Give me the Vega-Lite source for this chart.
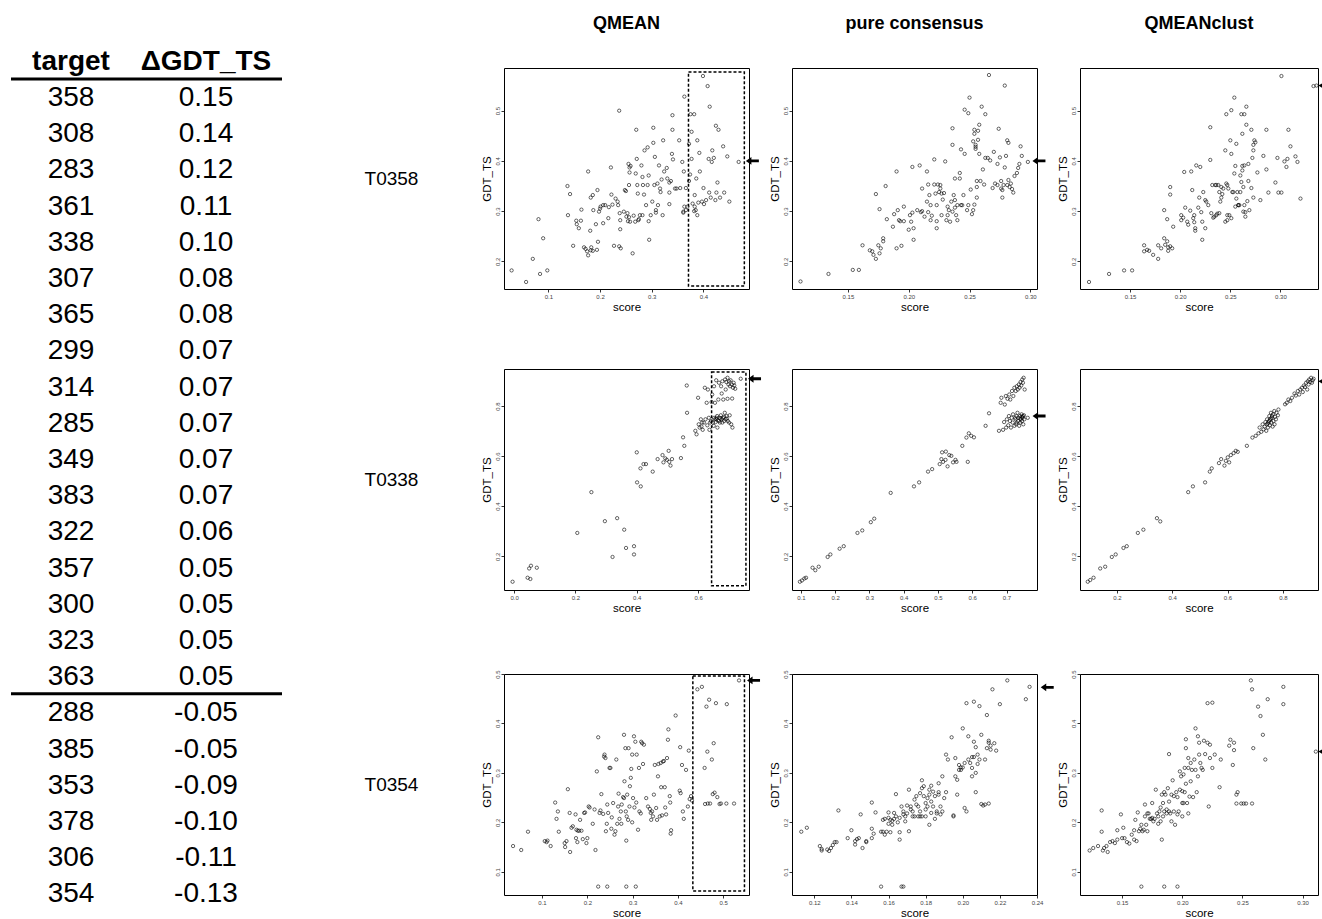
{
  "$schema": "https://vega.github.io/schema/vega-lite/v6.json",
  "padding": {"left": 9, "top": 14, "right": 0, "bottom": 0},
  "background": "white",
  "bounds": "flush",
  "spacing": 40,
  "config": {
    "font": "Liberation Sans",
    "view": {"stroke": "#000", "strokeWidth": 1},
    "axis": {
      "domain": false, "grid": false, "tickSize": 3, "tickColor": "#000", "tickWidth": 0.8,
      "labelFontSize": 6, "labelColor": "#444", "labelPadding": 1, "labelFlush": false, "labelOverlap": false,
      "titleFont": "Liberation Sans Narrow, Liberation Sans", "titleFontSize": 11.5, "titleFontWeight": "normal", "titleColor": "#000"
    },
    "axisY": {"labelAngle": -90, "labelAlign": "center", "labelBaseline": "bottom", "titlePadding": 2},
    "axisX": {"titlePadding": 2},
    "point": {"filled": false, "color": "#000", "size": 11, "strokeWidth": 0.6, "opacity": 1},
    "title": {"fontSize": 18, "fontWeight": "bold", "offset": 35, "color": "#000", "anchor": "middle"}
  },
  "datasets": {
    "table": [
      {"row": 1, "target": "358", "d": "0.15"}, {"row": 2, "target": "308", "d": "0.14"},
      {"row": 3, "target": "283", "d": "0.12"}, {"row": 4, "target": "361", "d": "0.11"},
      {"row": 5, "target": "338", "d": "0.10"}, {"row": 6, "target": "307", "d": "0.08"},
      {"row": 7, "target": "365", "d": "0.08"}, {"row": 8, "target": "299", "d": "0.07"},
      {"row": 9, "target": "314", "d": "0.07"}, {"row": 10, "target": "285", "d": "0.07"},
      {"row": 11, "target": "349", "d": "0.07"}, {"row": 12, "target": "383", "d": "0.07"},
      {"row": 13, "target": "322", "d": "0.06"}, {"row": 14, "target": "357", "d": "0.05"},
      {"row": 15, "target": "300", "d": "0.05"}, {"row": 16, "target": "323", "d": "0.05"},
      {"row": 17, "target": "363", "d": "0.05"}, {"row": 18, "target": "288", "d": "-0.05"},
      {"row": 19, "target": "385", "d": "-0.05"}, {"row": 20, "target": "353", "d": "-0.09"},
      {"row": 21, "target": "378", "d": "-0.10"}, {"row": 22, "target": "306", "d": "-0.11"},
      {"row": 23, "target": "354", "d": "-0.13"}
    ],
    "r1a": [
      {"s":0.029,"g":0.182},{"s":0.057,"g":0.159},{"s":0.070,"g":0.205},{"s":0.081,"g":0.284},{"s":0.084,"g":0.175},{"s":0.090,"g":0.246},{"s":0.098,"g":0.182},{"s":0.137,"g":0.350},{"s":0.142,"g":0.334},{"s":0.138,"g":0.292},{"s":0.148,"g":0.231},{"s":0.154,"g":0.281},{"s":0.155,"g":0.274},{"s":0.159,"g":0.266},{"s":0.163,"g":0.281},{"s":0.164,"g":0.303},{"s":0.169,"g":0.228},{"s":0.172,"g":0.225},{"s":0.175,"g":0.220},{"s":0.177,"g":0.212},{"s":0.182,"g":0.222},{"s":0.183,"g":0.228},{"s":0.186,"g":0.221},{"s":0.194,"g":0.223},{"s":0.177,"g":0.379},{"s":0.181,"g":0.261},{"s":0.182,"g":0.327},{"s":0.186,"g":0.332},{"s":0.187,"g":0.302},{"s":0.192,"g":0.274},{"s":0.195,"g":0.342},{"s":0.196,"g":0.239},{"s":0.198,"g":0.299},{"s":0.200,"g":0.305},{"s":0.201,"g":0.309},{"s":0.206,"g":0.312},{"s":0.210,"g":0.312},{"s":0.206,"g":0.276},{"s":0.216,"g":0.286},{"s":0.217,"g":0.308},{"s":0.222,"g":0.333},{"s":0.221,"g":0.387},{"s":0.224,"g":0.313},{"s":0.227,"g":0.231},{"s":0.230,"g":0.325},{"s":0.234,"g":0.319},{"s":0.235,"g":0.312},{"s":0.237,"g":0.230},{"s":0.239,"g":0.264},{"s":0.240,"g":0.226},{"s":0.238,"g":0.296},{"s":0.239,"g":0.282},{"s":0.237,"g":0.500},{"s":0.246,"g":0.299},{"s":0.248,"g":0.342},{"s":0.250,"g":0.340},{"s":0.251,"g":0.289},{"s":0.253,"g":0.296},{"s":0.254,"g":0.280},{"s":0.256,"g":0.288},{"s":0.258,"g":0.279},{"s":0.255,"g":0.394},{"s":0.257,"g":0.387},{"s":0.259,"g":0.390},{"s":0.256,"g":0.352},{"s":0.257,"g":0.377},{"s":0.263,"g":0.216},{"s":0.265,"g":0.291},{"s":0.268,"g":0.279},{"s":0.269,"g":0.375},{"s":0.270,"g":0.462},{"s":0.271,"g":0.404},{"s":0.272,"g":0.352},{"s":0.273,"g":0.335},{"s":0.274,"g":0.282},{"s":0.275,"g":0.284},{"s":0.277,"g":0.292},{"s":0.280,"g":0.391},{"s":0.282,"g":0.292},{"s":0.282,"g":0.368},{"s":0.283,"g":0.352},{"s":0.285,"g":0.333},{"s":0.286,"g":0.421},{"s":0.289,"g":0.312},{"s":0.292,"g":0.427},{"s":0.292,"g":0.352},{"s":0.294,"g":0.280},{"s":0.294,"g":0.371},{"s":0.295,"g":0.243},{"s":0.298,"g":0.292},{"s":0.301,"g":0.319},{"s":0.303,"g":0.466},{"s":0.303,"g":0.436},{"s":0.305,"g":0.352},{"s":0.306,"g":0.408},{"s":0.308,"g":0.297},{"s":0.308,"g":0.302},{"s":0.311,"g":0.355},{"s":0.312,"g":0.312},{"s":0.314,"g":0.391},{"s":0.316,"g":0.345},{"s":0.317,"g":0.338},{"s":0.319,"g":0.363},{"s":0.321,"g":0.292},{"s":0.322,"g":0.441},{"s":0.324,"g":0.379},{"s":0.329,"g":0.386},{"s":0.330,"g":0.365},{"s":0.334,"g":0.337},{"s":0.334,"g":0.357},{"s":0.337,"g":0.360},{"s":0.339,"g":0.414},{"s":0.340,"g":0.491},{"s":0.340,"g":0.462},{"s":0.334,"g":0.314},{"s":0.341,"g":0.403},{"s":0.345,"g":0.345},{"s":0.348,"g":0.345},{"s":0.353,"g":0.441},{"s":0.355,"g":0.346},{"s":0.359,"g":0.398},{"s":0.361,"g":0.297},{"s":0.361,"g":0.299},{"s":0.362,"g":0.379},{"s":0.363,"g":0.309},{"s":0.363,"g":0.528},{"s":0.366,"g":0.302},{"s":0.366,"g":0.346},{"s":0.369,"g":0.309},{"s":0.372,"g":0.434},{"s":0.372,"g":0.360},{"s":0.374,"g":0.373},{"s":0.375,"g":0.493},{"s":0.377,"g":0.458},{"s":0.377,"g":0.404},{"s":0.379,"g":0.315},{"s":0.382,"g":0.493},{"s":0.383,"g":0.309},{"s":0.383,"g":0.332},{"s":0.382,"g":0.300},{"s":0.385,"g":0.302},{"s":0.386,"g":0.365},{"s":0.388,"g":0.441},{"s":0.388,"g":0.292},{"s":0.390,"g":0.317},{"s":0.392,"g":0.416},{"s":0.393,"g":0.379},{"s":0.397,"g":0.319},{"s":0.399,"g":0.569},{"s":0.400,"g":0.346},{"s":0.401,"g":0.314},{"s":0.405,"g":0.322},{"s":0.408,"g":0.549},{"s":0.410,"g":0.404},{"s":0.411,"g":0.337},{"s":0.412,"g":0.508},{"s":0.414,"g":0.327},{"s":0.416,"g":0.398},{"s":0.417,"g":0.421},{"s":0.420,"g":0.406},{"s":0.423,"g":0.322},{"s":0.424,"g":0.470},{"s":0.425,"g":0.337},{"s":0.427,"g":0.357},{"s":0.429,"g":0.462},{"s":0.432,"g":0.327},{"s":0.438,"g":0.429},{"s":0.440,"g":0.337},{"s":0.446,"g":0.409},{"s":0.450,"g":0.319},{"s":0.468,"g":0.398}
    ],
    "r1b": [
      {"s":0.111,"g":0.160},{"s":0.134,"g":0.175},{"s":0.154,"g":0.183},{"s":0.159,"g":0.183},{"s":0.162,"g":0.232},{"s":0.168,"g":0.222},{"s":0.170,"g":0.220},{"s":0.171,"g":0.213},{"s":0.173,"g":0.205},{"s":0.175,"g":0.232},{"s":0.176,"g":0.216},{"s":0.177,"g":0.226},{"s":0.179,"g":0.240},{"s":0.179,"g":0.246},{"s":0.173,"g":0.334},{"s":0.176,"g":0.304},{"s":0.181,"g":0.350},{"s":0.182,"g":0.284},{"s":0.187,"g":0.269},{"s":0.188,"g":0.294},{"s":0.190,"g":0.226},{"s":0.191,"g":0.302},{"s":0.190,"g":0.379},{"s":0.192,"g":0.282},{"s":0.193,"g":0.280},{"s":0.194,"g":0.231},{"s":0.196,"g":0.280},{"s":0.196,"g":0.309},{"s":0.200,"g":0.263},{"s":0.201,"g":0.292},{"s":0.202,"g":0.279},{"s":0.203,"g":0.297},{"s":0.204,"g":0.266},{"s":0.204,"g":0.243},{"s":0.203,"g":0.388},{"s":0.207,"g":0.302},{"s":0.209,"g":0.391},{"s":0.210,"g":0.298},{"s":0.211,"g":0.300},{"s":0.211,"g":0.345},{"s":0.213,"g":0.289},{"s":0.215,"g":0.379},{"s":0.215,"g":0.319},{"s":0.216,"g":0.298},{"s":0.216,"g":0.353},{"s":0.217,"g":0.332},{"s":0.218,"g":0.312},{"s":0.218,"g":0.282},{"s":0.219,"g":0.291},{"s":0.221,"g":0.403},{"s":0.221,"g":0.353},{"s":0.222,"g":0.335},{"s":0.223,"g":0.266},{"s":0.223,"g":0.280},{"s":0.223,"g":0.312},{"s":0.224,"g":0.353},{"s":0.225,"g":0.338},{"s":0.226,"g":0.352},{"s":0.226,"g":0.345},{"s":0.227,"g":0.292},{"s":0.227,"g":0.335},{"s":0.228,"g":0.323},{"s":0.229,"g":0.336},{"s":0.230,"g":0.399},{"s":0.231,"g":0.282},{"s":0.232,"g":0.309},{"s":0.232,"g":0.292},{"s":0.233,"g":0.302},{"s":0.234,"g":0.279},{"s":0.235,"g":0.319},{"s":0.236,"g":0.299},{"s":0.236,"g":0.465},{"s":0.236,"g":0.432},{"s":0.237,"g":0.332},{"s":0.238,"g":0.365},{"s":0.238,"g":0.307},{"s":0.238,"g":0.322},{"s":0.239,"g":0.292},{"s":0.240,"g":0.312},{"s":0.240,"g":0.282},{"s":0.242,"g":0.365},{"s":0.242,"g":0.376},{"s":0.243,"g":0.423},{"s":0.243,"g":0.312},{"s":0.244,"g":0.312},{"s":0.245,"g":0.332},{"s":0.246,"g":0.502},{"s":0.246,"g":0.414},{"s":0.248,"g":0.302},{"s":0.249,"g":0.495},{"s":0.249,"g":0.312},{"s":0.250,"g":0.526},{"s":0.251,"g":0.343},{"s":0.252,"g":0.294},{"s":0.253,"g":0.302},{"s":0.253,"g":0.439},{"s":0.254,"g":0.454},{"s":0.254,"g":0.462},{"s":0.254,"g":0.313},{"s":0.255,"g":0.432},{"s":0.255,"g":0.428},{"s":0.255,"g":0.424},{"s":0.256,"g":0.327},{"s":0.256,"g":0.348},{"s":0.256,"g":0.360},{"s":0.257,"g":0.442},{"s":0.257,"g":0.460},{"s":0.258,"g":0.472},{"s":0.258,"g":0.414},{"s":0.259,"g":0.360},{"s":0.260,"g":0.508},{"s":0.261,"g":0.383},{"s":0.262,"g":0.353},{"s":0.263,"g":0.493},{"s":0.263,"g":0.406},{"s":0.265,"g":0.406},{"s":0.266,"g":0.571},{"s":0.267,"g":0.401},{"s":0.269,"g":0.346},{"s":0.270,"g":0.418},{"s":0.271,"g":0.355},{"s":0.273,"g":0.394},{"s":0.273,"g":0.352},{"s":0.274,"g":0.464},{"s":0.275,"g":0.407},{"s":0.276,"g":0.345},{"s":0.276,"g":0.360},{"s":0.277,"g":0.327},{"s":0.277,"g":0.342},{"s":0.278,"g":0.352},{"s":0.279,"g":0.550},{"s":0.279,"g":0.387},{"s":0.280,"g":0.410},{"s":0.281,"g":0.441},{"s":0.281,"g":0.352},{"s":0.282,"g":0.362},{"s":0.282,"g":0.436},{"s":0.283,"g":0.348},{"s":0.284,"g":0.355},{"s":0.285,"g":0.344},{"s":0.286,"g":0.337},{"s":0.287,"g":0.370},{"s":0.289,"g":0.376},{"s":0.290,"g":0.386},{"s":0.291,"g":0.394},{"s":0.292,"g":0.429},{"s":0.293,"g":0.410},{"s":0.298,"g":0.398}
    ],
    "r1c": [
      {"s":0.109,"g":0.159},{"s":0.129,"g":0.175},{"s":0.144,"g":0.182},{"s":0.152,"g":0.182},{"s":0.164,"g":0.232},{"s":0.164,"g":0.220},{"s":0.167,"g":0.223},{"s":0.169,"g":0.221},{"s":0.173,"g":0.213},{"s":0.178,"g":0.205},{"s":0.178,"g":0.232},{"s":0.181,"g":0.226},{"s":0.184,"g":0.246},{"s":0.185,"g":0.233},{"s":0.187,"g":0.240},{"s":0.188,"g":0.221},{"s":0.188,"g":0.228},{"s":0.190,"g":0.230},{"s":0.192,"g":0.226},{"s":0.193,"g":0.269},{"s":0.184,"g":0.302},{"s":0.187,"g":0.284},{"s":0.190,"g":0.348},{"s":0.190,"g":0.333},{"s":0.201,"g":0.292},{"s":0.201,"g":0.282},{"s":0.203,"g":0.287},{"s":0.204,"g":0.378},{"s":0.205,"g":0.307},{"s":0.207,"g":0.279},{"s":0.208,"g":0.273},{"s":0.210,"g":0.301},{"s":0.211,"g":0.379},{"s":0.212,"g":0.342},{"s":0.213,"g":0.286},{"s":0.214,"g":0.278},{"s":0.214,"g":0.292},{"s":0.215,"g":0.266},{"s":0.215,"g":0.261},{"s":0.216,"g":0.391},{"s":0.218,"g":0.307},{"s":0.219,"g":0.327},{"s":0.220,"g":0.388},{"s":0.221,"g":0.298},{"s":0.222,"g":0.279},{"s":0.222,"g":0.243},{"s":0.223,"g":0.338},{"s":0.225,"g":0.322},{"s":0.225,"g":0.266},{"s":0.226,"g":0.319},{"s":0.228,"g":0.312},{"s":0.230,"g":0.402},{"s":0.230,"g":0.467},{"s":0.231,"g":0.296},{"s":0.232,"g":0.352},{"s":0.233,"g":0.287},{"s":0.234,"g":0.289},{"s":0.235,"g":0.352},{"s":0.236,"g":0.292},{"s":0.236,"g":0.352},{"s":0.237,"g":0.295},{"s":0.238,"g":0.352},{"s":0.239,"g":0.296},{"s":0.239,"g":0.338},{"s":0.240,"g":0.319},{"s":0.241,"g":0.327},{"s":0.241,"g":0.348},{"s":0.242,"g":0.334},{"s":0.243,"g":0.345},{"s":0.245,"g":0.421},{"s":0.245,"g":0.279},{"s":0.246,"g":0.355},{"s":0.246,"g":0.493},{"s":0.247,"g":0.352},{"s":0.247,"g":0.282},{"s":0.247,"g":0.292},{"s":0.248,"g":0.345},{"s":0.249,"g":0.292},{"s":0.250,"g":0.441},{"s":0.251,"g":0.501},{"s":0.251,"g":0.414},{"s":0.251,"g":0.286},{"s":0.252,"g":0.338},{"s":0.253,"g":0.338},{"s":0.254,"g":0.526},{"s":0.254,"g":0.375},{"s":0.255,"g":0.390},{"s":0.255,"g":0.309},{"s":0.256,"g":0.325},{"s":0.256,"g":0.434},{"s":0.257,"g":0.338},{"s":0.258,"g":0.312},{"s":0.258,"g":0.312},{"s":0.259,"g":0.312},{"s":0.260,"g":0.338},{"s":0.260,"g":0.371},{"s":0.261,"g":0.358},{"s":0.261,"g":0.493},{"s":0.262,"g":0.390},{"s":0.262,"g":0.381},{"s":0.262,"g":0.454},{"s":0.263,"g":0.348},{"s":0.263,"g":0.299},{"s":0.264,"g":0.493},{"s":0.264,"g":0.391},{"s":0.264,"g":0.312},{"s":0.265,"g":0.298},{"s":0.265,"g":0.289},{"s":0.266,"g":0.508},{"s":0.266,"g":0.472},{"s":0.267,"g":0.320},{"s":0.268,"g":0.394},{"s":0.268,"g":0.360},{"s":0.269,"g":0.302},{"s":0.271,"g":0.462},{"s":0.271,"g":0.346},{"s":0.272,"g":0.406},{"s":0.273,"g":0.327},{"s":0.273,"g":0.421},{"s":0.273,"g":0.432},{"s":0.274,"g":0.441},{"s":0.275,"g":0.437},{"s":0.277,"g":0.377},{"s":0.280,"g":0.322},{"s":0.283,"g":0.410},{"s":0.286,"g":0.383},{"s":0.286,"g":0.462},{"s":0.288,"g":0.337},{"s":0.295,"g":0.357},{"s":0.297,"g":0.406},{"s":0.298,"g":0.337},{"s":0.301,"g":0.337},{"s":0.304,"g":0.399},{"s":0.306,"g":0.388},{"s":0.307,"g":0.404},{"s":0.308,"g":0.462},{"s":0.310,"g":0.429},{"s":0.315,"g":0.409},{"s":0.317,"g":0.398},{"s":0.320,"g":0.325},{"s":0.301,"g":0.569},{"s":0.333,"g":0.549},{"s":0.336,"g":0.550}
    ],
    "r2a": [
      {"s":-0.005,"g":0.098},{"s":0.044,"g":0.114},{"s":0.053,"g":0.109},{"s":0.049,"g":0.151},{"s":0.055,"g":0.162},{"s":0.074,"g":0.154},{"s":0.206,"g":0.293},{"s":0.252,"g":0.456},{"s":0.296,"g":0.340},{"s":0.336,"g":0.352},{"s":0.321,"g":0.197},{"s":0.359,"g":0.306},{"s":0.365,"g":0.233},{"s":0.391,"g":0.240},{"s":0.391,"g":0.207},{"s":0.400,"g":0.615},{"s":0.401,"g":0.495},{"s":0.413,"g":0.479},{"s":0.412,"g":0.551},{"s":0.422,"g":0.568},{"s":0.430,"g":0.568},{"s":0.452,"g":0.538},{"s":0.468,"g":0.588},{"s":0.484,"g":0.604},{"s":0.487,"g":0.575},{"s":0.493,"g":0.591},{"s":0.498,"g":0.585},{"s":0.504,"g":0.621},{"s":0.506,"g":0.577},{"s":0.510,"g":0.562},{"s":0.515,"g":0.588},{"s":0.544,"g":0.592},{"s":0.551,"g":0.675},{"s":0.555,"g":0.641},{"s":0.564,"g":0.773},{"s":0.563,"g":0.882},{"s":0.591,"g":0.701},{"s":0.595,"g":0.687},{"s":0.600,"g":0.833},{"s":0.602,"g":0.727},{"s":0.605,"g":0.714},{"s":0.609,"g":0.747},{"s":0.611,"g":0.718},{"s":0.613,"g":0.734},{"s":0.615,"g":0.705},{"s":0.619,"g":0.734},{"s":0.622,"g":0.873},{"s":0.624,"g":0.747},{"s":0.628,"g":0.813},{"s":0.630,"g":0.723},{"s":0.632,"g":0.866},{"s":0.635,"g":0.753},{"s":0.637,"g":0.705},{"s":0.639,"g":0.734},{"s":0.642,"g":0.740},{"s":0.644,"g":0.816},{"s":0.646,"g":0.846},{"s":0.648,"g":0.734},{"s":0.651,"g":0.721},{"s":0.652,"g":0.879},{"s":0.654,"g":0.747},{"s":0.655,"g":0.813},{"s":0.657,"g":0.736},{"s":0.659,"g":0.903},{"s":0.660,"g":0.753},{"s":0.663,"g":0.714},{"s":0.665,"g":0.743},{"s":0.666,"g":0.826},{"s":0.668,"g":0.893},{"s":0.670,"g":0.753},{"s":0.671,"g":0.734},{"s":0.674,"g":0.763},{"s":0.675,"g":0.879},{"s":0.677,"g":0.747},{"s":0.677,"g":0.850},{"s":0.679,"g":0.899},{"s":0.681,"g":0.753},{"s":0.682,"g":0.826},{"s":0.685,"g":0.740},{"s":0.687,"g":0.773},{"s":0.688,"g":0.906},{"s":0.690,"g":0.866},{"s":0.690,"g":0.747},{"s":0.692,"g":0.896},{"s":0.693,"g":0.760},{"s":0.696,"g":0.913},{"s":0.696,"g":0.829},{"s":0.697,"g":0.740},{"s":0.699,"g":0.886},{"s":0.701,"g":0.899},{"s":0.701,"g":0.734},{"s":0.703,"g":0.763},{"s":0.704,"g":0.879},{"s":0.706,"g":0.903},{"s":0.708,"g":0.727},{"s":0.710,"g":0.886},{"s":0.711,"g":0.830},{"s":0.712,"g":0.714},{"s":0.714,"g":0.873},{"s":0.716,"g":0.893},{"s":0.718,"g":0.882},{"s":0.721,"g":0.869},{"s":0.739,"g":0.909},{"s":0.652,"g":0.753},{"s":0.659,"g":0.747},{"s":0.668,"g":0.740},{"s":0.679,"g":0.734},{"s":0.684,"g":0.757},{"s":0.673,"g":0.750},{"s":0.662,"g":0.760},{"s":0.694,"g":0.750}
    ],
    "r2b": [
      {"s":0.097,"g":0.098},{"s":0.103,"g":0.103},{"s":0.110,"g":0.111},{"s":0.115,"g":0.114},{"s":0.134,"g":0.154},{"s":0.142,"g":0.144},{"s":0.152,"g":0.158},{"s":0.178,"g":0.197},{"s":0.186,"g":0.207},{"s":0.213,"g":0.230},{"s":0.225,"g":0.240},{"s":0.265,"g":0.293},{"s":0.279,"g":0.303},{"s":0.304,"g":0.336},{"s":0.314,"g":0.350},{"s":0.362,"g":0.453},{"s":0.430,"g":0.479},{"s":0.445,"g":0.495},{"s":0.471,"g":0.538},{"s":0.483,"g":0.548},{"s":0.505,"g":0.568},{"s":0.512,"g":0.615},{"s":0.523,"g":0.618},{"s":0.510,"g":0.588},{"s":0.515,"g":0.577},{"s":0.522,"g":0.585},{"s":0.528,"g":0.559},{"s":0.533,"g":0.604},{"s":0.539,"g":0.601},{"s":0.544,"g":0.575},{"s":0.551,"g":0.585},{"s":0.554,"g":0.577},{"s":0.571,"g":0.641},{"s":0.587,"g":0.577},{"s":0.583,"g":0.674},{"s":0.590,"g":0.691},{"s":0.597,"g":0.681},{"s":0.605,"g":0.675},{"s":0.639,"g":0.721},{"s":0.649,"g":0.771},{"s":0.678,"g":0.701},{"s":0.683,"g":0.813},{"s":0.685,"g":0.833},{"s":0.690,"g":0.705},{"s":0.693,"g":0.736},{"s":0.695,"g":0.806},{"s":0.698,"g":0.840},{"s":0.699,"g":0.714},{"s":0.701,"g":0.747},{"s":0.703,"g":0.829},{"s":0.705,"g":0.723},{"s":0.707,"g":0.760},{"s":0.708,"g":0.846},{"s":0.710,"g":0.740},{"s":0.711,"g":0.826},{"s":0.713,"g":0.714},{"s":0.715,"g":0.753},{"s":0.716,"g":0.860},{"s":0.718,"g":0.734},{"s":0.719,"g":0.767},{"s":0.720,"g":0.840},{"s":0.723,"g":0.721},{"s":0.723,"g":0.873},{"s":0.725,"g":0.753},{"s":0.726,"g":0.747},{"s":0.727,"g":0.860},{"s":0.728,"g":0.727},{"s":0.729,"g":0.760},{"s":0.730,"g":0.879},{"s":0.730,"g":0.734},{"s":0.732,"g":0.773},{"s":0.733,"g":0.866},{"s":0.734,"g":0.740},{"s":0.735,"g":0.753},{"s":0.736,"g":0.886},{"s":0.737,"g":0.721},{"s":0.738,"g":0.873},{"s":0.739,"g":0.760},{"s":0.740,"g":0.734},{"s":0.741,"g":0.896},{"s":0.742,"g":0.747},{"s":0.743,"g":0.882},{"s":0.744,"g":0.767},{"s":0.745,"g":0.740},{"s":0.746,"g":0.906},{"s":0.747,"g":0.753},{"s":0.748,"g":0.893},{"s":0.749,"g":0.727},{"s":0.750,"g":0.913},{"s":0.751,"g":0.763},{"s":0.752,"g":0.747},{"s":0.753,"g":0.866},{"s":0.762,"g":0.753},{"s":0.745,"g":0.757},{"s":0.740,"g":0.750},{"s":0.748,"g":0.760}
    ],
    "r2c": [
      {"s":0.095,"g":0.098},{"s":0.104,"g":0.105},{"s":0.116,"g":0.114},{"s":0.140,"g":0.151},{"s":0.158,"g":0.158},{"s":0.182,"g":0.197},{"s":0.196,"g":0.207},{"s":0.224,"g":0.233},{"s":0.236,"g":0.240},{"s":0.276,"g":0.293},{"s":0.296,"g":0.306},{"s":0.345,"g":0.352},{"s":0.357,"g":0.339},{"s":0.458,"g":0.456},{"s":0.475,"g":0.479},{"s":0.519,"g":0.495},{"s":0.536,"g":0.538},{"s":0.543,"g":0.551},{"s":0.569,"g":0.572},{"s":0.577,"g":0.588},{"s":0.589,"g":0.562},{"s":0.594,"g":0.581},{"s":0.601,"g":0.595},{"s":0.606,"g":0.575},{"s":0.612,"g":0.604},{"s":0.622,"g":0.612},{"s":0.630,"g":0.621},{"s":0.637,"g":0.617},{"s":0.670,"g":0.641},{"s":0.690,"g":0.674},{"s":0.702,"g":0.681},{"s":0.712,"g":0.691},{"s":0.716,"g":0.714},{"s":0.722,"g":0.697},{"s":0.727,"g":0.727},{"s":0.730,"g":0.707},{"s":0.734,"g":0.718},{"s":0.737,"g":0.736},{"s":0.740,"g":0.701},{"s":0.742,"g":0.727},{"s":0.743,"g":0.747},{"s":0.746,"g":0.714},{"s":0.748,"g":0.734},{"s":0.751,"g":0.760},{"s":0.753,"g":0.723},{"s":0.754,"g":0.745},{"s":0.757,"g":0.773},{"s":0.758,"g":0.734},{"s":0.760,"g":0.753},{"s":0.763,"g":0.718},{"s":0.764,"g":0.767},{"s":0.766,"g":0.740},{"s":0.769,"g":0.780},{"s":0.770,"g":0.727},{"s":0.772,"g":0.757},{"s":0.775,"g":0.747},{"s":0.777,"g":0.773},{"s":0.782,"g":0.763},{"s":0.784,"g":0.786},{"s":0.808,"g":0.807},{"s":0.814,"g":0.813},{"s":0.820,"g":0.826},{"s":0.827,"g":0.820},{"s":0.833,"g":0.833},{"s":0.842,"g":0.850},{"s":0.847,"g":0.842},{"s":0.854,"g":0.860},{"s":0.859,"g":0.846},{"s":0.863,"g":0.866},{"s":0.869,"g":0.873},{"s":0.872,"g":0.856},{"s":0.876,"g":0.882},{"s":0.880,"g":0.876},{"s":0.884,"g":0.893},{"s":0.888,"g":0.866},{"s":0.890,"g":0.899},{"s":0.893,"g":0.886},{"s":0.895,"g":0.906},{"s":0.899,"g":0.896},{"s":0.902,"g":0.913},{"s":0.905,"g":0.893},{"s":0.908,"g":0.903},{"s":0.911,"g":0.909},{"s":0.750,"g":0.740},{"s":0.745,"g":0.730},{"s":0.756,"g":0.750},{"s":0.761,"g":0.760}
    ],
    "r3a": [
      {"s":0.036,"g":0.152},{"s":0.054,"g":0.144},{"s":0.069,"g":0.181},{"s":0.106,"g":0.162},{"s":0.110,"g":0.160},{"s":0.112,"g":0.163},{"s":0.119,"g":0.152},{"s":0.129,"g":0.240},{"s":0.132,"g":0.207},{"s":0.135,"g":0.222},{"s":0.137,"g":0.181},{"s":0.150,"g":0.158},{"s":0.151,"g":0.150},{"s":0.154,"g":0.162},{"s":0.157,"g":0.267},{"s":0.161,"g":0.219},{"s":0.162,"g":0.140},{"s":0.165,"g":0.189},{"s":0.168,"g":0.192},{"s":0.174,"g":0.216},{"s":0.175,"g":0.168},{"s":0.176,"g":0.185},{"s":0.178,"g":0.160},{"s":0.179,"g":0.183},{"s":0.182,"g":0.183},{"s":0.184,"g":0.205},{"s":0.187,"g":0.183},{"s":0.190,"g":0.166},{"s":0.193,"g":0.219},{"s":0.195,"g":0.220},{"s":0.198,"g":0.158},{"s":0.200,"g":0.168},{"s":0.203,"g":0.232},{"s":0.205,"g":0.230},{"s":0.212,"g":0.197},{"s":0.216,"g":0.226},{"s":0.218,"g":0.144},{"s":0.221,"g":0.303},{"s":0.224,"g":0.372},{"s":0.227,"g":0.219},{"s":0.229,"g":0.224},{"s":0.231,"g":0.257},{"s":0.235,"g":0.217},{"s":0.237,"g":0.333},{"s":0.238,"g":0.337},{"s":0.240,"g":0.330},{"s":0.241,"g":0.182},{"s":0.243,"g":0.197},{"s":0.244,"g":0.236},{"s":0.246,"g":0.219},{"s":0.249,"g":0.310},{"s":0.251,"g":0.310},{"s":0.253,"g":0.187},{"s":0.254,"g":0.210},{"s":0.257,"g":0.239},{"s":0.260,"g":0.175},{"s":0.262,"g":0.182},{"s":0.264,"g":0.327},{"s":0.266,"g":0.197},{"s":0.268,"g":0.232},{"s":0.269,"g":0.258},{"s":0.271,"g":0.207},{"s":0.274,"g":0.222},{"s":0.275,"g":0.197},{"s":0.276,"g":0.236},{"s":0.279,"g":0.251},{"s":0.281,"g":0.377},{"s":0.281,"g":0.249},{"s":0.282,"g":0.283},{"s":0.284,"g":0.350},{"s":0.285,"g":0.222},{"s":0.286,"g":0.163},{"s":0.287,"g":0.212},{"s":0.288,"g":0.256},{"s":0.290,"g":0.205},{"s":0.291,"g":0.350},{"s":0.293,"g":0.232},{"s":0.294,"g":0.273},{"s":0.296,"g":0.290},{"s":0.297,"g":0.308},{"s":0.299,"g":0.200},{"s":0.299,"g":0.337},{"s":0.301,"g":0.249},{"s":0.303,"g":0.374},{"s":0.304,"g":0.230},{"s":0.306,"g":0.363},{"s":0.308,"g":0.240},{"s":0.309,"g":0.337},{"s":0.312,"g":0.185},{"s":0.314,"g":0.310},{"s":0.315,"g":0.222},{"s":0.318,"g":0.218},{"s":0.319,"g":0.363},{"s":0.321,"g":0.360},{"s":0.323,"g":0.318},{"s":0.325,"g":0.357},{"s":0.330,"g":0.249},{"s":0.334,"g":0.232},{"s":0.338,"g":0.227},{"s":0.340,"g":0.219},{"s":0.341,"g":0.205},{"s":0.343,"g":0.222},{"s":0.345,"g":0.212},{"s":0.347,"g":0.256},{"s":0.349,"g":0.316},{"s":0.352,"g":0.229},{"s":0.354,"g":0.205},{"s":0.356,"g":0.293},{"s":0.357,"g":0.318},{"s":0.360,"g":0.212},{"s":0.362,"g":0.320},{"s":0.363,"g":0.271},{"s":0.365,"g":0.214},{"s":0.367,"g":0.323},{"s":0.369,"g":0.324},{"s":0.371,"g":0.271},{"s":0.372,"g":0.230},{"s":0.374,"g":0.216},{"s":0.376,"g":0.330},{"s":0.378,"g":0.367},{"s":0.379,"g":0.388},{"s":0.382,"g":0.253},{"s":0.383,"g":0.240},{"s":0.384,"g":0.177},{"s":0.385,"g":0.184},{"s":0.395,"g":0.416},{"s":0.404,"g":0.264},{"s":0.405,"g":0.352},{"s":0.406,"g":0.259},{"s":0.409,"g":0.316},{"s":0.411,"g":0.222},{"s":0.413,"g":0.207},{"s":0.418,"g":0.306},{"s":0.422,"g":0.232},{"s":0.424,"g":0.345},{"s":0.426,"g":0.247},{"s":0.429,"g":0.253},{"s":0.431,"g":0.244},{"s":0.443,"g":0.469},{"s":0.453,"g":0.474},{"s":0.459,"g":0.310},{"s":0.460,"g":0.237},{"s":0.463,"g":0.434},{"s":0.465,"g":0.343},{"s":0.466,"g":0.238},{"s":0.469,"g":0.448},{"s":0.471,"g":0.238},{"s":0.475,"g":0.327},{"s":0.477,"g":0.257},{"s":0.479,"g":0.360},{"s":0.481,"g":0.260},{"s":0.484,"g":0.441},{"s":0.487,"g":0.251},{"s":0.492,"g":0.237},{"s":0.495,"g":0.238},{"s":0.507,"g":0.238},{"s":0.508,"g":0.439},{"s":0.524,"g":0.238},{"s":0.535,"g":0.487},{"s":0.224,"g":0.070},{"s":0.244,"g":0.070},{"s":0.286,"g":0.070},{"s":0.307,"g":0.070}
    ],
    "r3b": [
      {"s":0.113,"g":0.181},{"s":0.116,"g":0.189},{"s":0.123,"g":0.152},{"s":0.124,"g":0.146},{"s":0.124,"g":0.143},{"s":0.127,"g":0.145},{"s":0.128,"g":0.142},{"s":0.129,"g":0.148},{"s":0.130,"g":0.154},{"s":0.131,"g":0.160},{"s":0.132,"g":0.160},{"s":0.133,"g":0.224},{"s":0.138,"g":0.168},{"s":0.140,"g":0.184},{"s":0.142,"g":0.162},{"s":0.142,"g":0.155},{"s":0.143,"g":0.166},{"s":0.144,"g":0.168},{"s":0.145,"g":0.216},{"s":0.146,"g":0.148},{"s":0.148,"g":0.160},{"s":0.148,"g":0.162},{"s":0.151,"g":0.168},{"s":0.151,"g":0.187},{"s":0.151,"g":0.240},{"s":0.152,"g":0.177},{"s":0.153,"g":0.220},{"s":0.156,"g":0.181},{"s":0.157,"g":0.181},{"s":0.157,"g":0.205},{"s":0.158,"g":0.207},{"s":0.158,"g":0.175},{"s":0.159,"g":0.181},{"s":0.160,"g":0.220},{"s":0.160,"g":0.209},{"s":0.160,"g":0.197},{"s":0.161,"g":0.205},{"s":0.161,"g":0.180},{"s":0.162,"g":0.203},{"s":0.162,"g":0.195},{"s":0.163,"g":0.219},{"s":0.163,"g":0.207},{"s":0.164,"g":0.257},{"s":0.164,"g":0.212},{"s":0.165,"g":0.200},{"s":0.166,"g":0.165},{"s":0.166,"g":0.180},{"s":0.166,"g":0.209},{"s":0.167,"g":0.232},{"s":0.168,"g":0.216},{"s":0.168,"g":0.222},{"s":0.169,"g":0.212},{"s":0.169,"g":0.202},{"s":0.170,"g":0.234},{"s":0.170,"g":0.218},{"s":0.171,"g":0.182},{"s":0.171,"g":0.266},{"s":0.172,"g":0.226},{"s":0.172,"g":0.232},{"s":0.173,"g":0.212},{"s":0.173,"g":0.222},{"s":0.174,"g":0.246},{"s":0.174,"g":0.212},{"s":0.175,"g":0.236},{"s":0.175,"g":0.253},{"s":0.176,"g":0.232},{"s":0.176,"g":0.212},{"s":0.177,"g":0.259},{"s":0.177,"g":0.222},{"s":0.177,"g":0.212},{"s":0.178,"g":0.285},{"s":0.178,"g":0.269},{"s":0.178,"g":0.212},{"s":0.179,"g":0.253},{"s":0.179,"g":0.273},{"s":0.180,"g":0.239},{"s":0.180,"g":0.226},{"s":0.180,"g":0.212},{"s":0.181,"g":0.249},{"s":0.181,"g":0.232},{"s":0.182,"g":0.195},{"s":0.182,"g":0.266},{"s":0.182,"g":0.256},{"s":0.183,"g":0.242},{"s":0.183,"g":0.219},{"s":0.183,"g":0.274},{"s":0.184,"g":0.232},{"s":0.184,"g":0.262},{"s":0.185,"g":0.207},{"s":0.185,"g":0.253},{"s":0.186,"g":0.222},{"s":0.186,"g":0.218},{"s":0.187,"g":0.279},{"s":0.187,"g":0.261},{"s":0.187,"g":0.256},{"s":0.188,"g":0.216},{"s":0.188,"g":0.232},{"s":0.189,"g":0.293},{"s":0.189,"g":0.222},{"s":0.190,"g":0.249},{"s":0.191,"g":0.261},{"s":0.191,"g":0.337},{"s":0.192,"g":0.327},{"s":0.194,"g":0.372},{"s":0.195,"g":0.214},{"s":0.195,"g":0.212},{"s":0.196,"g":0.330},{"s":0.196,"g":0.293},{"s":0.197,"g":0.256},{"s":0.197,"g":0.286},{"s":0.198,"g":0.316},{"s":0.198,"g":0.306},{"s":0.199,"g":0.311},{"s":0.199,"g":0.306},{"s":0.200,"g":0.390},{"s":0.200,"g":0.311},{"s":0.201,"g":0.320},{"s":0.201,"g":0.229},{"s":0.202,"g":0.222},{"s":0.202,"g":0.441},{"s":0.203,"g":0.374},{"s":0.203,"g":0.327},{"s":0.204,"g":0.320},{"s":0.205,"g":0.332},{"s":0.205,"g":0.310},{"s":0.205,"g":0.293},{"s":0.206,"g":0.363},{"s":0.206,"g":0.444},{"s":0.206,"g":0.332},{"s":0.207,"g":0.352},{"s":0.207,"g":0.261},{"s":0.207,"g":0.300},{"s":0.208,"g":0.318},{"s":0.208,"g":0.337},{"s":0.209,"g":0.435},{"s":0.209,"g":0.327},{"s":0.210,"g":0.377},{"s":0.210,"g":0.237},{"s":0.211,"g":0.234},{"s":0.212,"g":0.236},{"s":0.212,"g":0.327},{"s":0.213,"g":0.417},{"s":0.213,"g":0.350},{"s":0.214,"g":0.361},{"s":0.214,"g":0.238},{"s":0.214,"g":0.365},{"s":0.215,"g":0.355},{"s":0.215,"g":0.347},{"s":0.216,"g":0.469},{"s":0.217,"g":0.360},{"s":0.218,"g":0.345},{"s":0.220,"g":0.439},{"s":0.224,"g":0.487},{"s":0.234,"g":0.449},{"s":0.236,"g":0.474},{"s":0.156,"g":0.070},{"s":0.167,"g":0.070},{"s":0.168,"g":0.070}
    ],
    "r3c": [
      {"s":0.123,"g":0.143},{"s":0.126,"g":0.148},{"s":0.130,"g":0.152},{"s":0.133,"g":0.224},{"s":0.133,"g":0.181},{"s":0.134,"g":0.143},{"s":0.135,"g":0.148},{"s":0.137,"g":0.152},{"s":0.138,"g":0.140},{"s":0.140,"g":0.160},{"s":0.142,"g":0.162},{"s":0.144,"g":0.158},{"s":0.146,"g":0.165},{"s":0.146,"g":0.184},{"s":0.149,"g":0.216},{"s":0.150,"g":0.168},{"s":0.151,"g":0.189},{"s":0.152,"g":0.168},{"s":0.154,"g":0.160},{"s":0.156,"g":0.157},{"s":0.158,"g":0.175},{"s":0.160,"g":0.184},{"s":0.160,"g":0.165},{"s":0.161,"g":0.205},{"s":0.162,"g":0.162},{"s":0.163,"g":0.220},{"s":0.164,"g":0.182},{"s":0.165,"g":0.187},{"s":0.166,"g":0.195},{"s":0.167,"g":0.182},{"s":0.168,"g":0.185},{"s":0.169,"g":0.212},{"s":0.169,"g":0.236},{"s":0.170,"g":0.195},{"s":0.171,"g":0.218},{"s":0.171,"g":0.182},{"s":0.172,"g":0.218},{"s":0.173,"g":0.207},{"s":0.174,"g":0.207},{"s":0.175,"g":0.239},{"s":0.175,"g":0.209},{"s":0.176,"g":0.202},{"s":0.177,"g":0.207},{"s":0.178,"g":0.266},{"s":0.179,"g":0.218},{"s":0.180,"g":0.212},{"s":0.180,"g":0.197},{"s":0.181,"g":0.222},{"s":0.182,"g":0.230},{"s":0.182,"g":0.202},{"s":0.183,"g":0.165},{"s":0.183,"g":0.256},{"s":0.184,"g":0.212},{"s":0.184,"g":0.239},{"s":0.185,"g":0.261},{"s":0.185,"g":0.222},{"s":0.186,"g":0.256},{"s":0.187,"g":0.218},{"s":0.187,"g":0.226},{"s":0.188,"g":0.269},{"s":0.189,"g":0.338},{"s":0.189,"g":0.242},{"s":0.189,"g":0.222},{"s":0.190,"g":0.218},{"s":0.191,"g":0.256},{"s":0.191,"g":0.202},{"s":0.192,"g":0.285},{"s":0.193,"g":0.253},{"s":0.193,"g":0.222},{"s":0.194,"g":0.195},{"s":0.195,"g":0.261},{"s":0.196,"g":0.251},{"s":0.196,"g":0.216},{"s":0.197,"g":0.222},{"s":0.198,"g":0.303},{"s":0.198,"g":0.266},{"s":0.199,"g":0.293},{"s":0.200,"g":0.239},{"s":0.200,"g":0.263},{"s":0.200,"g":0.212},{"s":0.201,"g":0.297},{"s":0.201,"g":0.239},{"s":0.202,"g":0.310},{"s":0.202,"g":0.261},{"s":0.203,"g":0.350},{"s":0.203,"g":0.368},{"s":0.203,"g":0.278},{"s":0.204,"g":0.239},{"s":0.205,"g":0.310},{"s":0.205,"g":0.330},{"s":0.205,"g":0.218},{"s":0.206,"g":0.252},{"s":0.207,"g":0.320},{"s":0.207,"g":0.283},{"s":0.208,"g":0.306},{"s":0.209,"g":0.251},{"s":0.210,"g":0.327},{"s":0.211,"g":0.306},{"s":0.211,"g":0.390},{"s":0.212,"g":0.261},{"s":0.213,"g":0.293},{"s":0.213,"g":0.374},{"s":0.214,"g":0.361},{"s":0.214,"g":0.337},{"s":0.215,"g":0.320},{"s":0.216,"g":0.310},{"s":0.217,"g":0.306},{"s":0.218,"g":0.365},{"s":0.219,"g":0.338},{"s":0.221,"g":0.441},{"s":0.221,"g":0.361},{"s":0.222,"g":0.232},{"s":0.223,"g":0.357},{"s":0.223,"g":0.330},{"s":0.225,"g":0.442},{"s":0.225,"g":0.310},{"s":0.227,"g":0.337},{"s":0.231,"g":0.271},{"s":0.232,"g":0.327},{"s":0.239,"g":0.355},{"s":0.240,"g":0.367},{"s":0.242,"g":0.316},{"s":0.243,"g":0.361},{"s":0.243,"g":0.346},{"s":0.245,"g":0.256},{"s":0.246,"g":0.261},{"s":0.245,"g":0.238},{"s":0.249,"g":0.238},{"s":0.251,"g":0.238},{"s":0.253,"g":0.238},{"s":0.258,"g":0.238},{"s":0.257,"g":0.487},{"s":0.258,"g":0.469},{"s":0.259,"g":0.350},{"s":0.263,"g":0.434},{"s":0.265,"g":0.415},{"s":0.267,"g":0.377},{"s":0.269,"g":0.327},{"s":0.271,"g":0.449},{"s":0.284,"g":0.474},{"s":0.284,"g":0.439},{"s":0.311,"g":0.343},{"s":0.166,"g":0.070},{"s":0.185,"g":0.070},{"s":0.196,"g":0.070}
    ]
  },
  "hconcat": [
    {
      "width": 271,
      "height": 826,
      "view": {"stroke": null},
      "data": {"name": "table"},
      "encoding": {
        "y": {"field": "row", "type": "quantitative", "scale": {"domain": [0.171, 22.989], "reverse": true, "nice": false, "zero": false}, "axis": null}
      },
      "layer": [
        {
          "mark": {"type": "text", "fontSize": 28, "baseline": "middle", "color": "#000"},
          "encoding": {
            "x": {"datum": "target", "type": "nominal", "scale": {"type": "point", "domain": ["target", "ΔGDT_TS"], "range": [60, 195], "padding": 0}, "axis": null},
            "text": {"field": "target"}
          }
        },
        {
          "mark": {"type": "text", "fontSize": 28, "baseline": "middle", "color": "#000"},
          "encoding": {
            "x": {"datum": "ΔGDT_TS", "type": "nominal"},
            "text": {"field": "d"}
          }
        },
        {
          "data": {"values": [{"h": "target", "row": 0}, {"h": "ΔGDT_TS", "row": 0}]},
          "mark": {"type": "text", "fontSize": 28, "fontWeight": "bold", "baseline": "middle", "color": "#000"},
          "encoding": {
            "x": {"field": "h", "type": "nominal"},
            "text": {"field": "h"}
          }
        },
        {
          "data": {"values": [{"row": 0.475}, {"row": 17.46}]},
          "mark": {"type": "rule", "strokeWidth": 3, "color": "#000"},
          "encoding": {"y": {"field": "row", "type": "quantitative"}}
        }
      ]
    },
    {
      "vconcat": [
        {
          "hconcat": [
            {"width": 139, "height": 221, "view": {"stroke": null}, "data": {"values": [{"t": "T0358"}]}, "mark": {"type": "text", "fontSize": 19, "color": "#000"}, "encoding": {"text": {"field": "t"}}},
            {
              "width": 245, "height": 221, "title": "QMEAN",
              "encoding": {
                "x": {"field": "s", "type": "quantitative", "title": "score", "scale": {"domain": [0.0143, 0.488], "nice": false, "zero": false}, "axis": {"values": [0.1, 0.2, 0.3, 0.4], "format": ".1f"}},
                "y": {"field": "g", "type": "quantitative", "title": "GDT_TS", "scale": {"domain": [0.145, 0.585], "nice": false, "zero": false}, "axis": {"values": [0.2, 0.3, 0.4, 0.5], "format": ".1f"}}
              },
              "layer": [
                {"data": {"name": "r1a"}, "mark": "point"},
                {"data": {"values": [{"s": 0.371, "s2": 0.479, "g": 0.151, "g2": 0.577}]}, "mark": {"type": "rect", "filled": false, "color": "#000", "strokeDash": [3, 2], "strokeWidth": 1.5}, "encoding": {"x2": {"field": "s2"}, "y2": {"field": "g2"}}},
                {"data": {"values": [{"s": 0.4945, "g": 0.40}]}, "mark": {"type": "point", "shape": "M-1,0L-0.15,-0.6L-0.15,-0.22L1,-0.22L1,0.22L-0.15,0.22L-0.15,0.6Z", "size": 169, "filled": true, "strokeWidth": 0}}
              ]
            },
            {
              "width": 245, "height": 221, "title": "pure consensus",
              "encoding": {
                "x": {"field": "s", "type": "quantitative", "title": "score", "scale": {"domain": [0.104, 0.3055], "nice": false, "zero": false}, "axis": {"values": [0.15, 0.2, 0.25, 0.3], "format": ".2f"}},
                "y": {"field": "g", "type": "quantitative", "title": "GDT_TS", "scale": {"domain": [0.145, 0.585], "nice": false, "zero": false}, "axis": {"values": [0.2, 0.3, 0.4, 0.5], "format": ".1f"}}
              },
              "layer": [
                {"data": {"name": "r1b"}, "mark": "point"},
                {"data": {"values": [{"s": 0.3071, "g": 0.40}]}, "mark": {"type": "point", "shape": "M-1,0L-0.15,-0.6L-0.15,-0.22L1,-0.22L1,0.22L-0.15,0.22L-0.15,0.6Z", "size": 169, "filled": true, "strokeWidth": 0}}
              ]
            },
            {
              "width": 238, "height": 221, "title": "QMEANclust",
              "encoding": {
                "x": {"field": "s", "type": "quantitative", "title": "score", "scale": {"domain": [0.10, 0.3375], "nice": false, "zero": false}, "axis": {"values": [0.15, 0.2, 0.25, 0.3], "format": ".2f"}},
                "y": {"field": "g", "type": "quantitative", "title": "GDT_TS", "scale": {"domain": [0.145, 0.585], "nice": false, "zero": false}, "axis": {"values": [0.2, 0.3, 0.4, 0.5], "format": ".1f"}}
              },
              "layer": [
                {"data": {"name": "r1c"}, "mark": "point"},
                {"data": {"values": [{"s": 0.3405, "g": 0.55}]}, "mark": {"type": "point", "shape": "triangle-left", "size": 40, "filled": true, "strokeWidth": 0}}
              ]
            }
          ],
          "spacing": 43,
          "bounds": "flush"
        },
        {
          "hconcat": [
            {"width": 139, "height": 221, "view": {"stroke": null}, "data": {"values": [{"t": "T0338"}]}, "mark": {"type": "text", "fontSize": 19, "color": "#000"}, "encoding": {"text": {"field": "t"}}},
            {
              "width": 245, "height": 221,
              "encoding": {
                "x": {"field": "s", "type": "quantitative", "title": "score", "scale": {"domain": [-0.033, 0.766], "nice": false, "zero": false}, "axis": {"values": [0, 0.2, 0.4, 0.6], "format": ".1f"}},
                "y": {"field": "g", "type": "quantitative", "title": "GDT_TS", "scale": {"domain": [0.065, 0.948], "nice": false, "zero": false}, "axis": {"values": [0.2, 0.4, 0.6, 0.8], "format": ".1f"}}
              },
              "layer": [
                {"data": {"name": "r2a"}, "mark": "point"},
                {"data": {"values": [{"s": 0.644, "s2": 0.756, "g": 0.082, "g2": 0.936}]}, "mark": {"type": "rect", "filled": false, "color": "#000", "strokeDash": [3, 2], "strokeWidth": 1.5}, "encoding": {"x2": {"field": "s2"}, "y2": {"field": "g2"}}},
                {"data": {"values": [{"s": 0.784, "g": 0.909}]}, "mark": {"type": "point", "shape": "M-1,0L-0.15,-0.6L-0.15,-0.22L1,-0.22L1,0.22L-0.15,0.22L-0.15,0.6Z", "size": 169, "filled": true, "strokeWidth": 0}}
              ]
            },
            {
              "width": 245, "height": 221,
              "encoding": {
                "x": {"field": "s", "type": "quantitative", "title": "score", "scale": {"domain": [0.074, 0.789], "nice": false, "zero": false}, "axis": {"values": [0.1, 0.2, 0.3, 0.4, 0.5, 0.6, 0.7], "format": ".1f"}},
                "y": {"field": "g", "type": "quantitative", "title": "GDT_TS", "scale": {"domain": [0.065, 0.948], "nice": false, "zero": false}, "axis": {"values": [0.2, 0.4, 0.6, 0.8], "format": ".1f"}}
              },
              "layer": [
                {"data": {"name": "r2b"}, "mark": "point"},
                {"data": {"values": [{"s": 0.795, "g": 0.760}]}, "mark": {"type": "point", "shape": "M-1,0L-0.15,-0.6L-0.15,-0.22L1,-0.22L1,0.22L-0.15,0.22L-0.15,0.6Z", "size": 169, "filled": true, "strokeWidth": 0}}
              ]
            },
            {
              "width": 238, "height": 221,
              "encoding": {
                "x": {"field": "s", "type": "quantitative", "title": "score", "scale": {"domain": [0.067, 0.927], "nice": false, "zero": false}, "axis": {"values": [0.2, 0.4, 0.6, 0.8], "format": ".1f"}},
                "y": {"field": "g", "type": "quantitative", "title": "GDT_TS", "scale": {"domain": [0.065, 0.948], "nice": false, "zero": false}, "axis": {"values": [0.2, 0.4, 0.6, 0.8], "format": ".1f"}}
              },
              "layer": [
                {"data": {"name": "r2c"}, "mark": "point"},
                {"data": {"values": [{"s": 0.938, "g": 0.899}]}, "mark": {"type": "point", "shape": "triangle-left", "size": 40, "filled": true, "strokeWidth": 0}}
              ]
            }
          ],
          "spacing": 43,
          "bounds": "flush"
        },
        {
          "hconcat": [
            {"width": 139, "height": 221, "view": {"stroke": null}, "data": {"values": [{"t": "T0354"}]}, "mark": {"type": "text", "fontSize": 19, "color": "#000"}, "encoding": {"text": {"field": "t"}}},
            {
              "width": 245, "height": 221,
              "encoding": {
                "x": {"field": "s", "type": "quantitative", "title": "score", "scale": {"domain": [0.016, 0.557], "nice": false, "zero": false}, "axis": {"values": [0.1, 0.2, 0.3, 0.4, 0.5], "format": ".1f"}},
                "y": {"field": "g", "type": "quantitative", "title": "GDT_TS", "scale": {"domain": [0.053, 0.5], "nice": false, "zero": false}, "axis": {"values": [0.1, 0.2, 0.3, 0.4, 0.5], "format": ".1f"}}
              },
              "layer": [
                {"data": {"name": "r3a"}, "mark": "point"},
                {"data": {"values": [{"s": 0.433, "s2": 0.547, "g": 0.061, "g2": 0.496}]}, "mark": {"type": "rect", "filled": false, "color": "#000", "strokeDash": [3, 2], "strokeWidth": 1.5}, "encoding": {"x2": {"field": "s2"}, "y2": {"field": "g2"}}},
                {"data": {"values": [{"s": 0.567, "g": 0.487}]}, "mark": {"type": "point", "shape": "M-1,0L-0.15,-0.6L-0.15,-0.22L1,-0.22L1,0.22L-0.15,0.22L-0.15,0.6Z", "size": 169, "filled": true, "strokeWidth": 0}}
              ]
            },
            {
              "width": 245, "height": 221,
              "encoding": {
                "x": {"field": "s", "type": "quantitative", "title": "score", "scale": {"domain": [0.108, 0.240], "nice": false, "zero": false}, "axis": {"values": [0.12, 0.14, 0.16, 0.18, 0.2, 0.22, 0.24], "format": ".2f"}},
                "y": {"field": "g", "type": "quantitative", "title": "GDT_TS", "scale": {"domain": [0.053, 0.5], "nice": false, "zero": false}, "axis": {"values": [0.1, 0.2, 0.3, 0.4, 0.5], "format": ".1f"}}
              },
              "layer": [
                {"data": {"name": "r3b"}, "mark": "point"},
                {"data": {"values": [{"s": 0.2455, "g": 0.473}]}, "mark": {"type": "point", "shape": "M-1,0L-0.15,-0.6L-0.15,-0.22L1,-0.22L1,0.22L-0.15,0.22L-0.15,0.6Z", "size": 169, "filled": true, "strokeWidth": 0}}
              ]
            },
            {
              "width": 238, "height": 221,
              "encoding": {
                "x": {"field": "s", "type": "quantitative", "title": "score", "scale": {"domain": [0.115, 0.3128], "nice": false, "zero": false}, "axis": {"values": [0.15, 0.2, 0.25, 0.3], "format": ".2f"}},
                "y": {"field": "g", "type": "quantitative", "title": "GDT_TS", "scale": {"domain": [0.053, 0.5], "nice": false, "zero": false}, "axis": {"values": [0.1, 0.2, 0.3, 0.4, 0.5], "format": ".1f"}}
              },
              "layer": [
                {"data": {"name": "r3c"}, "mark": "point"},
                {"data": {"values": [{"s": 0.3153, "g": 0.343}]}, "mark": {"type": "point", "shape": "triangle-left", "size": 40, "filled": true, "strokeWidth": 0}}
              ]
            }
          ],
          "spacing": 43,
          "bounds": "flush"
        }
      ],
      "spacing": 55,
      "bounds": "full"
    }
  ]
}
